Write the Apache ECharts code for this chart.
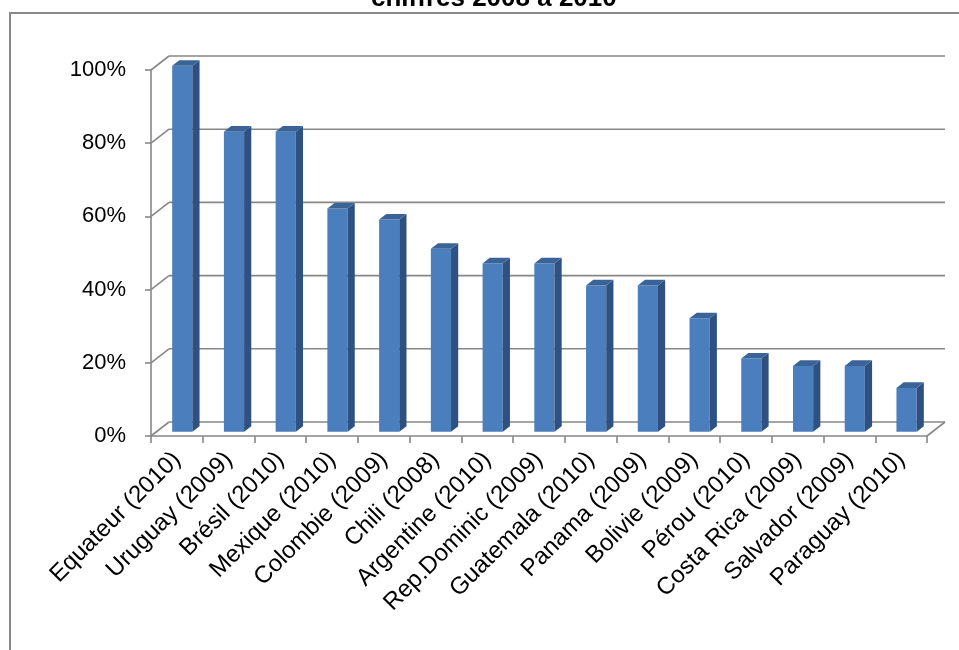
<!DOCTYPE html>
<html>
<head>
<meta charset="utf-8">
<script src="https://cdn.jsdelivr.net/npm/echarts@6/dist/echarts.min.js"></script>
<style>
  html, body { margin: 0; padding: 0; background: #fff; }
  #chart { width: 959px; height: 650px; }
</style>
</head>
<body>
<div id="chart"></div>
<script>
// data
const categories = ['Equateur (2010)', 'Uruguay (2009)', 'Brésil (2010)', 'Mexique (2010)',
  'Colombie (2009)', 'Chili (2008)', 'Argentine (2010)', 'Rep.Dominic (2009)', 'Guatemala (2010)',
  'Panama (2009)', 'Bolivie (2009)', 'Pérou (2010)', 'Costa Rica (2009)', 'Salvador (2009)', 'Paraguay (2010)'];
const values = [1.00, 0.82, 0.82, 0.61, 0.58, 0.50, 0.46, 0.46, 0.40, 0.40, 0.31, 0.20, 0.18, 0.18, 0.12];
const yTicks = [0, 0.2, 0.4, 0.6, 0.8, 1.0];
const titleText = 'chiffres 2008 à 2010';

// fake 3D depth of the walls (px)
const DX = 18, DY = -14;
const LINE = '#878787';
const FRONT = '#4B7EBC', SIDE = '#2E5181', TOP = '#3A6497';
const FONT = 'Liberation Sans, Arial, sans-serif';

// back wall gridlines + left wall diagonals
function renderFrame(params, api) {
  const v = api.value(1);
  const band = api.size([1, 0])[0];
  const p0 = api.coord([0, v]);
  const pn = api.coord([categories.length - 1, v]);
  const xl = p0[0] - band / 2, xr = pn[0] + band / 2, y = p0[1];
  const st = { stroke: LINE, lineWidth: 1.6 };
  const kids = [
    { type: 'line', shape: { x1: xl, y1: y, x2: xl + DX, y2: y + DY }, style: st },
    { type: 'line', shape: { x1: xl + DX, y1: y + DY, x2: xr + DX, y2: y + DY }, style: st }
  ];
  if (v === 0) {
    kids.push({ type: 'line', shape: { x1: xr, y1: y, x2: xr + DX, y2: y + DY }, style: st });
  }
  return { type: 'group', children: kids };
}

// 3D column: front face, side face, top face
function renderBar(params, api) {
  const i = api.value(0), v = api.value(1);
  const base = api.coord([i, 0]);
  const top = api.coord([i, v]);
  const band = api.size([1, 0])[0];
  const w = band * 0.39;
  const ox = DX * 0.3, oy = DY * 0.3;
  const sx = DX * 0.4, sy = DY * 0.4;
  const x1 = base[0] - w / 2 + ox, x2 = x1 + w;
  const yb = base[1] + oy, yt = top[1] + oy;
  return {
    type: 'group',
    children: [
      { type: 'rect', shape: { x: x1, y: yt, width: w, height: yb - yt }, style: { fill: FRONT } },
      { type: 'polygon', shape: { points: [[x2, yb], [x2 + sx, yb + sy], [x2 + sx, yt + sy], [x2, yt]] }, style: { fill: SIDE } },
      { type: 'polygon', shape: { points: [[x1, yt], [x1 + sx, yt + sy], [x2 + sx, yt + sy], [x2, yt]] }, style: { fill: TOP } }
    ]
  };
}

const chart = echarts.init(document.getElementById('chart'));
const option = {
  animation: false,
  backgroundColor: '#fff',
  title: {
    text: titleText,
    left: 366,
    top: -19,
    textStyle: { fontSize: 26, fontWeight: 'bold', color: '#000', fontFamily: FONT }
  },
  graphic: [{
    type: 'rect',
    z: -1,
    shape: { x: 10, y: 13, width: 960, height: 700 },
    style: { fill: 'none', stroke: '#888', lineWidth: 2 }
  }],
  grid: { left: 151, right: 32, top: 70, bottom: 214 },
  xAxis: {
    type: 'category',
    data: categories,
    axisLine: { lineStyle: { color: LINE, width: 1.6 } },
    axisTick: { show: true, length: 7, lineStyle: { color: LINE, width: 1.6 } },
    axisLabel: { rotate: 45, interval: 0, fontSize: 24, color: '#000', fontFamily: FONT, margin: 20 }
  },
  yAxis: {
    type: 'value',
    min: 0,
    max: 1,
    interval: 0.2,
    axisLine: { show: true, lineStyle: { color: LINE, width: 1.6 } },
    axisTick: { show: true, length: 6, lineStyle: { color: LINE, width: 1.6 } },
    splitLine: { show: false },
    axisLabel: {
      formatter: v => Math.round(v * 100) + '%',
      fontSize: 22, color: '#000', fontFamily: FONT, margin: 25
    }
  },
  series: [
    {
      type: 'custom',
      z: 1,
      renderItem: renderFrame,
      data: yTicks.map(v => [0, v]),
      silent: true
    },
    {
      type: 'custom',
      z: 2,
      renderItem: renderBar,
      data: values.map((v, i) => [i, v])
    }
  ]
};
chart.setOption(option);
window.addEventListener('resize', function () { chart.resize(); });
</script>
</body>
</html>
